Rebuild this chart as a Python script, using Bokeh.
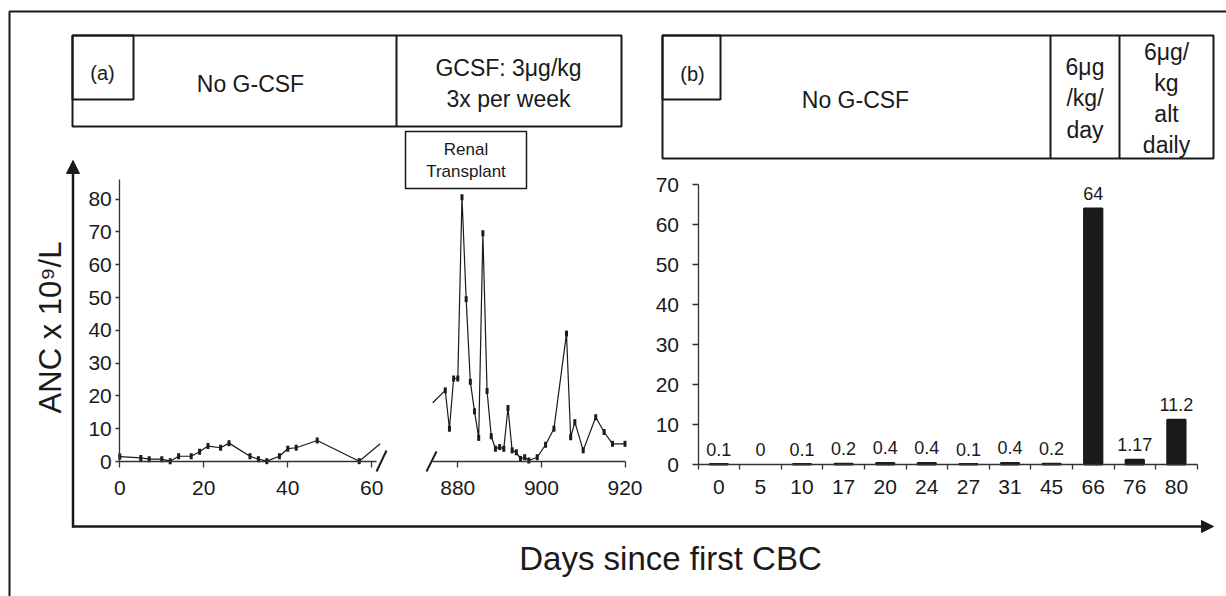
import numpy as np
from bokeh.plotting import figure
from bokeh.models import Range1d, LinearAxis, FixedTicker, Arrow, NormalHead, ColumnDataSource
from bokeh.core.properties import value
from bokeh.embed import file_html
from bokeh.resources import INLINE

# ---------------- data ----------------
# Panel (a): before G-CSF (days 0-60)
days_a1 = [0, 5, 7, 10, 12, 14, 17, 19, 21, 24, 26, 31, 33, 35, 38, 40, 42, 47, 57]
anc_a1 = [1.5, 1.1, 0.7, 0.7, 0.1, 1.6, 1.6, 3.0, 4.7, 4.2, 5.6, 1.6, 0.7, 0.1, 1.6, 3.9, 4.2, 6.4, 0.1]
# Panel (a): on G-CSF, around renal transplant (days 877-920)
days_a2 = [877, 878, 879, 880, 881, 882, 883, 884, 885, 886, 887, 888, 889, 890, 891, 892,
           893, 894, 895, 896, 897, 899, 901, 903, 906, 907, 908, 910, 913, 915, 917, 920]
anc_a2 = [21.7, 10.0, 25.3, 25.3, 80.6, 49.5, 24.3, 15.3, 7.2, 69.6, 21.5, 7.7, 3.9, 4.4, 3.9, 16.3,
          3.4, 2.8, 0.8, 1.3, 0.3, 1.3, 5.1, 10.0, 39.0, 7.4, 12.0, 3.4, 13.5, 9.0, 5.4, 5.4]
# line ends running into the axis break
break_days = [62, 874]
break_anc = [5.4, 17.9]

# Panel (b)
days_b = ["0", "5", "10", "17", "20", "24", "27", "31", "45", "66", "76", "80"]
anc_b = [0.1, 0, 0.1, 0.2, 0.4, 0.4, 0.1, 0.4, 0.2, 64, 1.17, 11.2]
labels_b = ["0.1", "0", "0.1", "0.2", "0.4", "0.4", "0.1", "0.4", "0.2", "64", "1.17", "11.2"]

ticks_a1 = [0, 20, 40, 60]
ticks_a2 = [880, 900, 920]
ticks_ya = [0, 10, 20, 30, 40, 50, 60, 70, 80]
ticks_yb = [0, 10, 20, 30, 40, 50, 60, 70]

FONT = "Liberation Sans"
INK = "#1a1a1a"

# ---------------- figure (frame = whole canvas, page-pixel coordinates) ----------------
X0, Y0 = 0, 0
W, H = 1226, 596
p = figure(width=W, height=H, x_range=Range1d(X0, X0 + W), y_range=Range1d(Y0 + H, Y0),
           x_axis_type=None, y_axis_type=None, toolbar_location=None,
           output_backend="svg", min_border=0, outline_line_color=None)
p.background_fill_color = "white"
p.border_fill_color = "white"


def rng(anchor_px, anchor_val, px_per_unit, lo_px, hi_px, flip=False):
    if flip:
        return Range1d((anchor_px - lo_px) / px_per_unit + anchor_val,
                       (anchor_px - hi_px) / px_per_unit + anchor_val)
    return Range1d((lo_px - anchor_px) / px_per_unit + anchor_val,
                   (hi_px - anchor_px) / px_per_unit + anchor_val)


p.extra_x_ranges = {
    "xa1": rng(119.3, 0, 4.2, X0, X0 + W),
    "xa2": rng(457.3, 880, 4.18, X0, X0 + W),
    "xb": rng(718.3, 0, 41.6, X0, X0 + W),
}
p.extra_y_ranges = {
    "ya": rng(461, 0, 3.28, Y0 + H, Y0, flip=True),
    "yb": rng(464, 0, 4.0, Y0 + H, Y0, flip=True),
}

# ---------------- decorations ----------------
# outer frame (top and left edges)
p.line(x=[9, 9, 1240], y=[610, 11, 11], line_color=INK, line_width=2)

# header box (a)
p.quad(left=[72, 72], right=[621, 133], top=[35, 35], bottom=[126, 99],
       fill_color=None, line_color=INK, line_width=2)
p.segment(x0=[396], y0=[35], x1=[396], y1=[126], line_color=INK, line_width=2)
# header box (b)
p.quad(left=[662, 662], right=[1213, 720], top=[35, 35], bottom=[158, 99],
       fill_color=None, line_color=INK, line_width=2)
p.segment(x0=[1050, 1119], y0=[35, 35], x1=[1050, 1119], y1=[158, 158], line_color=INK, line_width=2)
# renal transplant box
p.quad(left=[405], right=[526], top=[131], bottom=[188], fill_color=None, line_color=INK, line_width=1.5)

txt = dict(text_font=value(FONT), text_color=INK, text_align="center", text_baseline="middle",
           text_line_height=1.2)
p.text(x=[102, 692], y=[72, 73], text=["(a)", "(b)"], text_font_size="20px", **txt)
p.text(x=[250, 855], y=[83, 99], text=["No G-CSF", "No G-CSF"], text_font_size="23px", **txt)
p.text(x=[508], y=[83], text=["GCSF: 3\u03bcg/kg\n3x per week"], text_font_size="23px", **txt)
p.text(x=[1084.5], y=[98], text=["6\u03bcg\n/kg/\nday"], text_font_size="23px", **txt)
p.text(x=[1166], y=[98], text=["6\u03bcg/\nkg\nalt\ndaily"], text_font_size="23px", **txt)
p.text(x=[465.5], y=[160], text=["Renal\nTransplant"], text_font_size="17px", **txt)

# axis titles
p.text(x=[670], y=[558], text=["Days since first CBC"], text_font_size="33px", **txt)
p.text(x=[50], y=[327], text=["ANC x 10\u2079/L"], angle=np.pi / 2, text_font_size="31px", **txt)

# big arrows
p.add_layout(Arrow(end=NormalHead(size=13, fill_color=INK, line_color=INK),
                   x_start=72.5, y_start=527, x_end=72.5, y_end=160,
                   line_color=INK, line_width=2.5))
p.add_layout(Arrow(end=NormalHead(size=12, fill_color=INK, line_color=INK),
                   x_start=71.5, y_start=526, x_end=1213, y_end=526,
                   line_color=INK, line_width=2.5))

# axis-break slashes
p.segment(x0=[376, 426], y0=[471, 471], x1=[386, 436], y1=[450, 451], line_color=INK, line_width=2)

# ---------------- panel (a) data ----------------
a1 = dict(x_range_name="xa1", y_range_name="ya")
a2 = dict(x_range_name="xa2", y_range_name="ya")
p.line(x=days_a1 + break_days[:1], y=anc_a1 + break_anc[:1], line_color=INK, line_width=1.2, **a1)
p.scatter(x=days_a1, y=anc_a1, marker="dash", angle=np.pi / 2, size=6, line_width=3,
          line_color=INK, **a1)
p.line(x=break_days[1:] + days_a2, y=break_anc[1:] + anc_a2, line_color=INK, line_width=1.2, **a2)
p.scatter(x=days_a2, y=anc_a2, marker="dash", angle=np.pi / 2, size=6, line_width=3,
          line_color=INK, **a2)

# ---------------- panel (b) data ----------------
idx = list(range(len(days_b)))
src_b = ColumnDataSource(dict(x=idx, top=anc_b, lab=labels_b,
                              lc=[INK if v > 0 else None for v in anc_b]))
p.vbar(x="x", top="top", bottom=0, width=0.44, source=src_b, fill_color=INK,
       line_color="lc", line_width=2, x_range_name="xb", y_range_name="yb")
p.text(x="x", y="top", text="lab", source=src_b, y_offset=-15, text_font=value(FONT),
       text_font_size="18px", text_color=INK, text_align="center", text_baseline="alphabetic",
       x_range_name="xb", y_range_name="yb")


# ---------------- axes ----------------
def style(ax, tick_out=5, standoff=12):
    ax.axis_line_color = "#333333"
    ax.axis_line_width = 1.3
    ax.major_tick_line_color = "#333333"
    ax.major_tick_line_width = 1.3
    ax.major_tick_in = 0
    ax.major_tick_out = tick_out
    ax.minor_tick_line_color = None
    ax.major_label_text_font = FONT
    ax.major_label_text_font_size = "21px"
    ax.major_label_text_color = INK
    ax.major_label_standoff = standoff
    return ax


p.add_layout(style(LinearAxis(fixed_location=0, bounds=(0, 61), ticker=FixedTicker(ticks=ticks_a1),
                              **a1), 6, 13), "below")
p.add_layout(style(LinearAxis(fixed_location=0, bounds=(874, 920), ticker=FixedTicker(ticks=ticks_a2),
                              **a2), 6, 13), "below")
p.add_layout(style(LinearAxis(fixed_location=0, bounds=(0, 86), ticker=FixedTicker(ticks=ticks_ya),
                              **a1), 4, 4), "left")

b = dict(x_range_name="xb", y_range_name="yb")
bounds_ticks = [i - 0.5 for i in range(len(days_b) + 1)]
axb_ticks = style(LinearAxis(fixed_location=0, bounds=(-0.5, len(days_b) - 0.5),
                             ticker=FixedTicker(ticks=bounds_ticks), **b), 5, 10)
axb_ticks.major_label_overrides = {t: "" for t in bounds_ticks}
p.add_layout(axb_ticks, "below")
axb_labels = style(LinearAxis(fixed_location=0, ticker=FixedTicker(ticks=idx), **b), 0, 15)
axb_labels.axis_line_color = None
axb_labels.major_tick_line_color = None
axb_labels.major_label_overrides = {i: d for i, d in zip(idx, days_b)}
p.add_layout(axb_labels, "below")
p.add_layout(style(LinearAxis(fixed_location=-0.5, bounds=(0, 70), ticker=FixedTicker(ticks=ticks_yb),
                              **b), 6, 13), "left")

open("out.html", "w").write(file_html(p, INLINE))
